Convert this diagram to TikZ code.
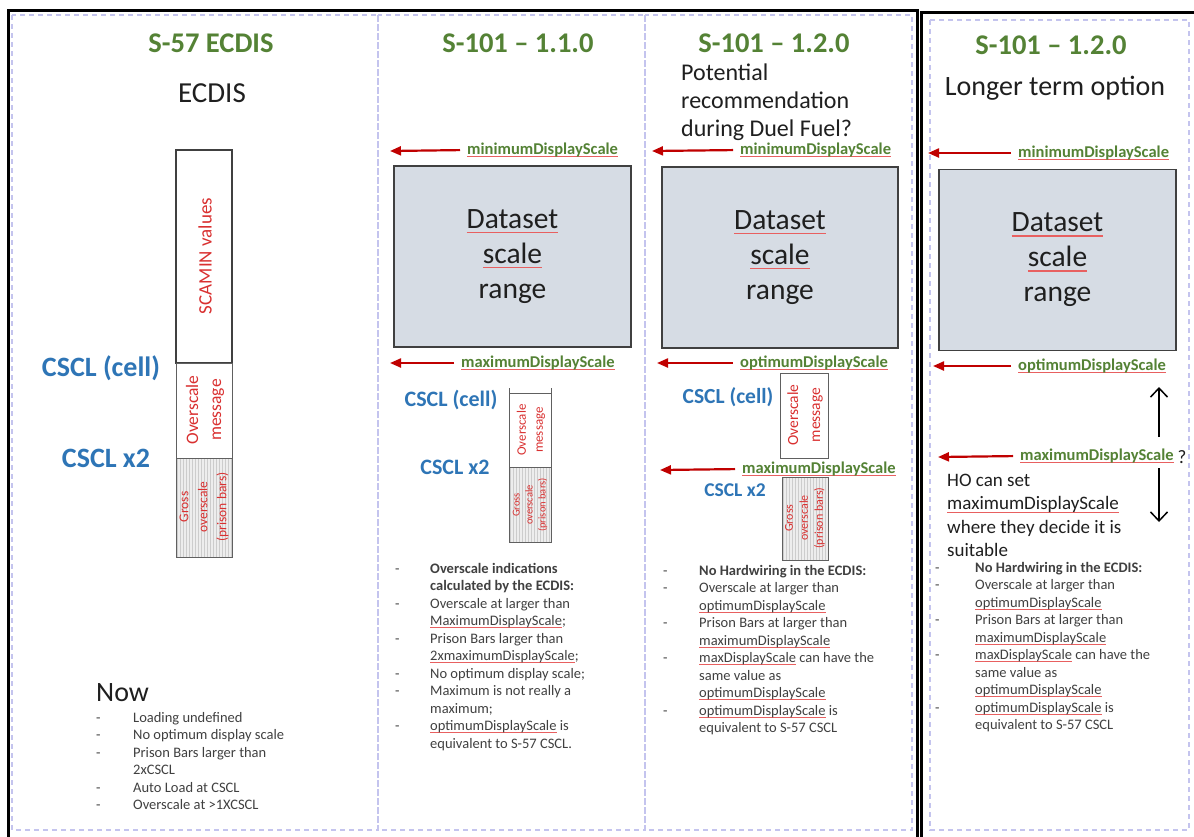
\documentclass[tikz,border=0pt]{standalone}
\usepackage{fontspec}
\setmainfont{Carlito}
\usetikzlibrary{arrows.meta,patterns}
\definecolor{ttlgreen}{HTML}{548235}
\definecolor{lblgreen}{HTML}{548235}
\definecolor{cblue}{HTML}{2E75B6}
\definecolor{arrred}{HTML}{C00000}
\definecolor{txtred}{HTML}{D93030}
\definecolor{boxfill}{HTML}{D6DCE4}
\definecolor{boxline}{HTML}{404040}
\definecolor{dashc}{HTML}{C4C4EE}
\definecolor{txtgray}{HTML}{404040}
\definecolor{txtdark}{HTML}{1F1F1F}
\definecolor{wavered}{HTML}{E86060}
\newcommand\rw[1]{\leavevmode\setbox0\hbox{#1}\rlap{\textcolor{wavered}{\rule[-0.16em]{\wd0}{0.055em}}}\box0\relax}
\begin{document}
\begin{tikzpicture}[x=1pt,y=-1pt,
  frame/.style={line width=3pt,black},
  panel/.style={draw=dashc,line width=1.2pt,dash pattern=on 5pt off 4pt},
  ttl/.style={font=\fontsize{28.5}{34}\selectfont\bfseries,text=ttlgreen,inner sep=0pt},
  sub/.style={font=\fontsize{29}{35}\selectfont,text=txtdark,inner sep=0pt},
  cscl/.style={text=cblue,inner sep=0pt},
  lbl/.style={font=\fontsize{16.5}{20}\selectfont\bfseries,text=lblgreen,inner sep=0pt,anchor=west},
  redarr/.style={draw=arrred,line width=2.2pt,-{Triangle[length=11pt,width=9pt]},shorten <=7pt},
  dsbox/.style={draw=boxline,line width=1.8pt,fill=boxfill,minimum width=#1,minimum height=181pt,
     font=\fontsize{29.5}{35}\selectfont,text=txtdark,align=center,inner sep=0pt},
  barA/.style={draw=boxline,line width=1.4pt,fill=white},
  barB/.style={draw=gray!75!black,line width=1pt,fill=white},
  barC/.style={draw=gray!75!black,line width=1pt,preaction={fill=gray!14},pattern=vertical lines,pattern color=gray!40},
  rot/.style={rotate=90,text=txtred,align=center,inner sep=0pt},
  blist/.style={anchor=base west,inner sep=0pt,text=txtgray,font=\fontsize{14.5}{17.5}\selectfont},
  plain/.style={anchor=base west,inner sep=0pt,text=txtdark},
  vbarb/.style={line width=1.5pt,black,-{Straight Barb[length=9pt,width=17pt]}}
]
\useasboundingbox (0,0) rectangle (1194,836);
\fill[white] (0,0) rectangle (1194,836);

% dashed panels
\draw[panel] (12,15) rectangle (378,830);
\draw[panel] (378,15) rectangle (645,830);
\draw[panel] (645,15) rectangle (912,830);
\draw[panel] (930,20) rectangle (1189,830);

% black frames
\draw[frame] (8,845) -- (8,10) -- (917,10) -- (917,845);
\draw[frame] (921,845) -- (921,12) -- (1200,12);

% ---------------- Column 1 ----------------
\node[ttl] (t1) at (211,43) {S-57 ECDIS};
\node[sub] (s1) at (212,93) {ECDIS};
\draw[barA] (176,150) rectangle (232,363);
\draw[barB] (176,363) rectangle (232,458);
\draw[barC] (176,458) rectangle (232,557);
\node[rot,font=\fontsize{19}{22}\selectfont] (scamin1) at (205,256) {SCAMIN values};
\node[rot,font=\fontsize{17.5}{23}\selectfont] (ov1) at (205,410) {Overscale\\message};
\node[rot,font=\fontsize{13.5}{19}\selectfont] (gr1) at (204,507) {Gross\\overscale\\(prison bars)};
\node[cscl,font=\fontsize{28}{34}\selectfont\bfseries] (cc1) at (101,368) {CSCL (cell)};
\node[cscl,font=\fontsize{28}{34}\selectfont\bfseries] (cx1) at (106,458) {CSCL x2};
\node[plain,font=\fontsize{28}{34}\selectfont] (now1) at (96,701) {Now};
\node[blist] (b1) at (96,722) {\begin{tabular}[t]{@{}p{37pt}@{}l@{}}
-&Loading undefined\\
-&No optimum display scale\\
-&Prison Bars larger than\\
 &2xCSCL\\
-&Auto Load at CSCL\\
-&Overscale at >1XCSCL
\end{tabular}};

% ---------------- Column 2 ----------------
\node[ttl] (t2) at (518,43) {S-101 – 1.1.0};
\coordinate (a2minT) at (390,151);
\node[lbl] (a2min) at (467,150) {\rw{minimumDisplayScale}};
\draw[redarr] (a2min.west) -- (a2minT);
\node[dsbox=237pt] (ds2) at (512.5,256.5) {\rw{Dataset}\\\rw{scale}\\range};
\coordinate (a2maxT) at (390,363);
\node[lbl] (a2max) at (461,363) {\rw{maximumDisplayScale}};
\draw[redarr] (a2max.west) -- (a2maxT);
\node[cscl,font=\fontsize{22}{26}\selectfont\bfseries] (cc2) at (451,400) {CSCL (cell)};
\node[cscl,font=\fontsize{22}{26}\selectfont\bfseries] (cx2) at (455,467) {CSCL x2};
\draw[barB] (509,393) rectangle (551,467);
\draw[gray!75!black,line width=1pt] (509,388) -- (509,393) (551,388) -- (551,393);
\draw[barC] (509,467) rectangle (551,542);
\node[rot,font=\fontsize{13}{17}\selectfont] (ov2) at (531,430) {Overscale\\message};
\node[rot,font=\fontsize{10.5}{13}\selectfont] (gr2) at (530,505) {Gross\\overscale\\(prison bars)};
\node[blist] (b2) at (395,573) {\begin{tabular}[t]{@{}p{35pt}@{}l@{}}
-&\textbf{Overscale indications}\\
 &\textbf{calculated by the ECDIS:}\\
-&Overscale at larger than\\
 &\rw{MaximumDisplayScale};\\
-&Prison Bars larger than\\
 &\rw{2xmaximumDisplayScale};\\
-&No optimum display scale;\\
-&Maximum is not really a\\
 &maximum;\\
-&\rw{optimumDisplayScale} is\\
 &equivalent to S-57 CSCL.
\end{tabular}};

% ---------------- Column 3 ----------------
\node[ttl] (t3) at (774,43) {S-101 – 1.2.0};
\node[plain,font=\fontsize{24}{28}\selectfont] (pot3) at (681,80) {\begin{tabular}[t]{@{}l@{}}
Potential\\recommendation\\during Duel Fuel?\end{tabular}};
\coordinate (a3minT) at (652,151);
\node[lbl] (a3min) at (740,150) {\rw{minimumDisplayScale}};
\draw[redarr] (a3min.west) -- (a3minT);
\node[dsbox=236pt] (ds3) at (780,257.5) {\rw{Dataset}\\\rw{scale}\\range};
\coordinate (a3optT) at (657,363);
\node[lbl] (a3opt) at (740,363) {\rw{optimumDisplayScale}};
\draw[redarr] (a3opt.west) -- (a3optT);
\node[cscl,font=\fontsize{21.5}{26}\selectfont\bfseries] (cc3) at (728,397) {CSCL (cell)};
\draw[barB] (780,373) rectangle (828,458);
\node[rot,font=\fontsize{15.5}{22}\selectfont] (ov3) at (805,415) {Overscale\\message};
\coordinate (a3maxT) at (660,470);
\node[lbl] (a3max) at (742,469) {\rw{maximumDisplayScale}};
\draw[redarr] (a3max.west) -- (a3maxT);
\node[cscl,font=\fontsize{19.5}{24}\selectfont\bfseries] (cx3) at (735,490) {CSCL x2};
\draw[barC] (782,477) rectangle (828,560);
\node[rot,font=\fontsize{12}{15}\selectfont] (gr3) at (805,518) {Gross\\overscale\\(prison bars)};
\node[blist] (b3) at (663,575) {\begin{tabular}[t]{@{}p{36pt}@{}l@{}}
-&\textbf{No Hardwiring in the ECDIS:}\\
-&Overscale at larger than\\
 &\rw{optimumDisplayScale}\\
-&Prison Bars at larger than\\
 &\rw{maximumDisplayScale}\\
-&\rw{maxDisplayScale} can have the\\
 &same value as\\
 &\rw{optimumDisplayScale}\\
-&\rw{optimumDisplayScale} is\\
 &equivalent to S-57 CSCL
\end{tabular}};

% ---------------- Column 4 ----------------
\node[ttl] (t4) at (1051,45) {S-101 – 1.2.0};
\node[inner sep=0pt,anchor=base,text=txtdark,font=\fontsize{28}{34}\selectfont] (lto) at (1055,95) {Longer term option};
\coordinate (a4minT) at (928,153);
\node[lbl] (a4min) at (1018,153) {\rw{minimumDisplayScale}};
\draw[redarr] (a4min.west) -- (a4minT);
\node[dsbox=237pt] (ds4) at (1057.5,260) {\rw{Dataset}\\\rw{scale}\\range};
\coordinate (a4optT) at (933,366);
\node[lbl] (a4opt) at (1018,366) {\rw{optimumDisplayScale}};
\draw[redarr] (a4opt.west) -- (a4optT);
\coordinate (a4maxT) at (938,457);
\node[lbl] (a4max) at (1020,456) {\rw{maximumDisplayScale}};
\draw[redarr] (a4max.west) -- (a4maxT);
\node[inner sep=0pt,text=txtdark,font=\fontsize{19}{23}\selectfont] (q4) at (1182,457) {?};
\coordinate (vupS) at (1159,437);
\coordinate (vupT) at (1159,387);
\coordinate (vdnS) at (1159,468);
\coordinate (vdnT) at (1159,522);
\draw[vbarb] (vupS) -- (vupT);
\draw[vbarb] (vdnS) -- (vdnT);
\node[plain,font=\fontsize{19}{23.5}\selectfont] (ho4) at (947,486) {\begin{tabular}[t]{@{}l@{}}
HO can set\\\rw{maximumDisplayScale}\\where they decide it is\\suitable\end{tabular}};
\node[blist] (b4) at (935,572) {\begin{tabular}[t]{@{}p{40pt}@{}l@{}}
-&\textbf{No Hardwiring in the ECDIS:}\\
-&Overscale at larger than\\
 &\rw{optimumDisplayScale}\\
-&Prison Bars at larger than\\
 &\rw{maximumDisplayScale}\\
-&\rw{maxDisplayScale} can have the\\
 &same value as\\
 &\rw{optimumDisplayScale}\\
-&\rw{optimumDisplayScale} is\\
 &equivalent to S-57 CSCL
\end{tabular}};
\end{tikzpicture}
\end{document}
